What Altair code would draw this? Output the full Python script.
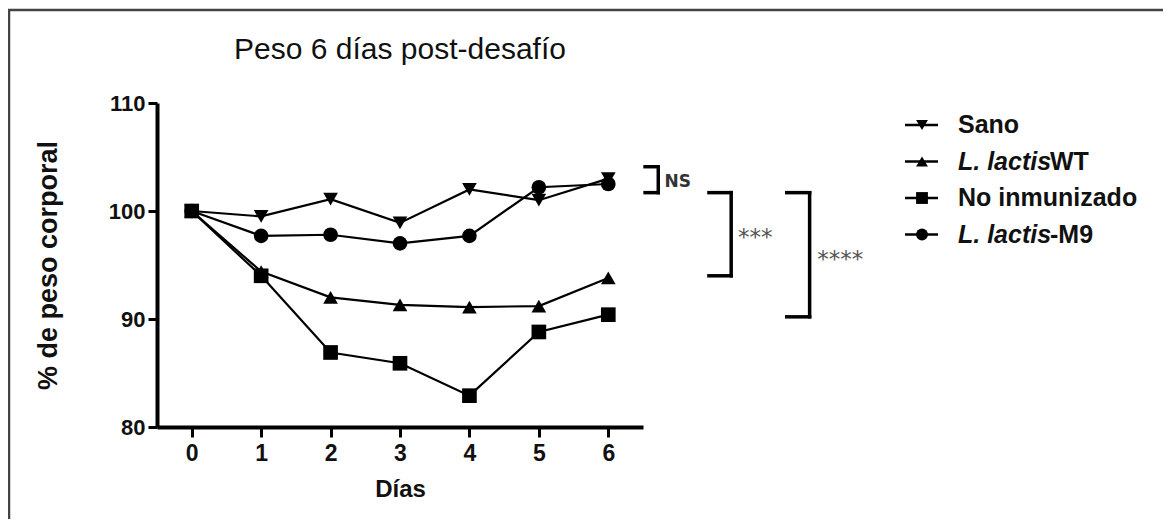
import altair as alt
import pandas as pd

# ---------------- data ----------------
days = [0, 1, 2, 3, 4, 5, 6]
series_names = ["Sano", "L. lactisWT", "No inmunizado", "L. lactis-M9"]
series_shapes = ["triangle-down", "triangle-up", "square", "circle"]
sano = [100.0, 99.5, 101.1, 98.9, 102.0, 101.0, 103.0]
lactis_wt = [100.0, 94.4, 92.0, 91.3, 91.1, 91.2, 93.8]
no_inmunizado = [100.0, 94.0, 86.9, 85.9, 82.9, 88.8, 90.4]
lactis_m9 = [100.0, 97.7, 97.8, 97.0, 97.7, 102.2, 102.5]

# legend label parts (italic prefix + plain suffix)
legend_italic = ["", "L. lactis", "", "L. lactis"]
legend_plain = ["Sano", "WT", "No inmunizado", "-M9"]

# significance brackets (in data units: days / % weight)
bracket_x_left = [6.53, 7.45, 8.57]
bracket_x_right = [6.72, 7.77, 8.90]
bracket_y_top = [104.1, 101.7, 101.7]
bracket_y_bottom = [101.7, 94.0, 90.2]
ann_labels = ["NS", "***", "****"]
ann_x = [6.81, 7.87, 9.01]
ann_y = [102.7, 98.0, 95.9]

title_text = "Peso 6 días post-desafío"
x_title = "Días"
y_title = "% de peso corporal"
x_ticks = [0, 1, 2, 3, 4, 5, 6]
y_ticks = [80, 90, 100, 110]

# ---------------- tables ----------------
rows = []
for name, vals in zip(series_names, [sano, lactis_wt, no_inmunizado, lactis_m9]):
    for d, v in zip(days, vals):
        rows.append({"series": name, "day": d, "value": v})
df = pd.DataFrame(rows)

df_br = pd.DataFrame({"xl": bracket_x_left, "xr": bracket_x_right,
                      "yt": bracket_y_top, "yb": bracket_y_bottom})
df_ann = pd.DataFrame({"label": ann_labels, "x": ann_x, "y": ann_y})
df_leg = pd.DataFrame({"series": series_names, "italic": legend_italic,
                       "plain": legend_plain})
df_one = pd.DataFrame({"k": [0]})

FONT = "Liberation Sans"
W, H = 486, 324

XS = alt.Scale(domain=[-0.5, 6.5], nice=False, zero=False)
YS = alt.Scale(domain=[80, 110], nice=False, zero=False)
XA = alt.Axis(values=x_ticks, format="d", grid=False, domainColor="black",
              domainWidth=4, tickColor="black", tickWidth=3, tickSize=10,
              labelFont=FONT, labelFontSize=23, labelFontWeight="bold",
              labelColor="#111", labelPadding=5, title=x_title,
              titleFont=FONT, titleFontSize=24, titleFontWeight="bold",
              titleColor="#111", titleX=W / 2, titleY=62,
              titleBaseline="middle", titleAlign="center")
YA = alt.Axis(values=y_ticks, grid=False, domainColor="black", domainWidth=4,
              tickColor="black", tickWidth=3, tickSize=9,
              labelFont=FONT, labelFontSize=22, labelFontWeight="bold",
              labelColor="#111", labelPadding=3, title=y_title,
              titleFont=FONT, titleFontSize=27, titleFontWeight="bold",
              titleColor="#111", titleX=-109, titleY=H / 2, titleAngle=270,
              titleBaseline="middle", titleAlign="center")


def X(field):
    return alt.X(field, type="quantitative", scale=XS, axis=XA)


def Y(field):
    return alt.Y(field, type="quantitative", scale=YS, axis=YA)


shape_enc = alt.Shape("series:N", scale=alt.Scale(domain=series_names,
                                                  range=series_shapes),
                      legend=None)

lines = alt.Chart(df).mark_line(color="black", strokeWidth=2.2).encode(
    x=X("day"), y=Y("value"), detail="series:N")
points = alt.Chart(df).mark_point(filled=True, color="black", opacity=1,
                                  size=215).encode(
    x=X("day"), y=Y("value"), shape=shape_enc)

br_kw = dict(color="black", strokeWidth=3.5, strokeCap="square")
br_top = alt.Chart(df_br).mark_rule(**br_kw).encode(
    x=X("xl"), x2="xr", y=Y("yt"))
br_bot = alt.Chart(df_br).mark_rule(**br_kw).encode(
    x=X("xl"), x2="xr", y=Y("yb"))
br_vert = alt.Chart(df_br).mark_rule(**br_kw).encode(
    x=X("xr"), y=Y("yt"), y2="yb")

ns_text = alt.Chart(df_ann).transform_filter(alt.datum.label == "NS").mark_text(
    font="DejaVu Sans", fontSize=17, fontWeight="bold", color="#333",
    align="left", baseline="middle").encode(x=X("x"), y=Y("y"), text="label:N")
star_text = alt.Chart(df_ann).transform_filter(alt.datum.label != "NS").mark_text(
    font="DejaVu Sans", fontSize=23, color="#555", align="left",
    baseline="middle", dy=5).encode(x=X("x"), y=Y("y"), text="label:N")

frame_top = alt.Chart(df_one).mark_rule(color="#444", strokeWidth=2.5).encode(
    x=alt.value(-149), x2=alt.value(1006), y=alt.value(-93))
frame_left = alt.Chart(df_one).mark_rule(color="#444", strokeWidth=2.5).encode(
    x=alt.value(-148), y=alt.value(-93), y2=alt.value(416))

main = alt.layer(lines, points, br_top, br_bot, br_vert, ns_text, star_text,
                 frame_top, frame_left)

# ---------------- manual legend (mixed italic labels) ----------------
LY = alt.Y("series:N", sort=series_names,
           scale=alt.Scale(type="point", domain=series_names,
                           range=[22, 131.5], padding=0), axis=None)
leg_line = alt.Chart(df_leg).mark_rule(color="black", strokeWidth=2.5).encode(
    x=alt.value(748), x2=alt.value(781), y=LY)
leg_pt = alt.Chart(df_leg).mark_point(filled=True, color="black", opacity=1,
                                      size=140).encode(
    x=alt.value(765), y=LY, shape=shape_enc)
leg_txt_plain_only = alt.Chart(df_leg).transform_filter(
    alt.datum.italic == "").mark_text(
    font=FONT, fontSize=25, fontWeight="bold", color="#111", align="left",
    baseline="middle").encode(x=alt.value(801), y=LY, text="plain:N")
leg_txt_it = alt.Chart(df_leg).transform_filter(
    alt.datum.italic != "").mark_text(
    font=FONT, fontSize=25, fontWeight="bold", fontStyle="italic",
    color="#111", align="left", baseline="middle").encode(
    x=alt.value(801), y=LY, text="italic:N")
leg_txt_suffix = alt.Chart(df_leg).transform_filter(
    alt.datum.italic != "").mark_text(
    font=FONT, fontSize=25, fontWeight="bold", color="#111", align="left",
    baseline="middle").encode(x=alt.value(893), y=LY, text="plain:N")

legend = alt.layer(leg_line, leg_pt, leg_txt_plain_only, leg_txt_it,
                   leg_txt_suffix)

chart = alt.layer(main, legend).resolve_scale(y="independent").properties(
    width=W, height=H,
    padding={"left": 149, "top": 95, "right": 520, "bottom": 92},
    autosize=alt.AutoSizeParams(type="none"),
    title=alt.TitleParams(title_text, font=FONT, fontSize=30,
                          fontWeight="normal", color="#111", anchor="middle",
                          frame="group", offset=0, baseline="alphabetic",
                          dy=80),
    background="white",
).configure_view(stroke="transparent")

chart.save("out.html", embed_options={"renderer": "svg", "actions": False})
